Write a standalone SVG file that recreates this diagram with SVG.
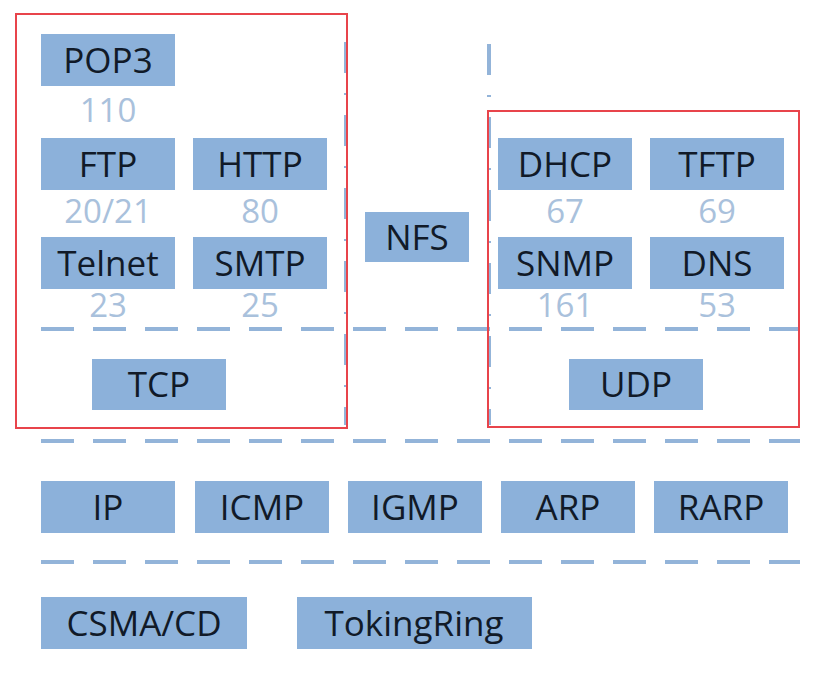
<svg xmlns="http://www.w3.org/2000/svg" width="832" height="690" viewBox="0 0 832 690">
<style>
.box{fill:#8cb1da;}
.lbl{font-family:"Open Sans","Noto Sans","DejaVu Sans",sans-serif;font-size:35px;fill:#111a28;text-anchor:middle;}
.num{font-family:"Open Sans","Noto Sans","DejaVu Sans",sans-serif;font-size:33px;fill:#a9c1dc;text-anchor:middle;}
.hd{stroke:#93b4d9;stroke-width:4;stroke-dasharray:33 19;fill:none;}
.vd{stroke:#93b4d9;stroke-width:4;stroke-dasharray:31 20 2 20;fill:none;}
.red{fill:none;stroke:#e8444b;stroke-width:2;}
</style>
<rect width="832" height="690" fill="#ffffff"/>
<g id="connectors">
<line class="hd" x1="41" y1="329" x2="800" y2="329"/>
<line class="hd" x1="41" y1="441" x2="800" y2="441"/>
<line class="hd" x1="41" y1="562" x2="800" y2="562"/>
<line class="vd" x1="346" y1="42" x2="346" y2="425"/>
<line class="vd" x1="489" y1="44" x2="489" y2="425"/>
</g>
<g id="tcp-group"><rect class="red" x="16" y="14" width="331" height="414"/></g>
<g id="udp-group"><rect class="red" x="488" y="111" width="311" height="316"/></g>
<g id="pop3"><rect class="box" x="41" y="34" width="134" height="52"/><text class="lbl" x="108" y="73">POP3</text><text class="num" x="108" y="122">110</text></g>
<g id="ftp"><rect class="box" x="41" y="138" width="134" height="52"/><text class="lbl" x="108" y="177">FTP</text><text class="num" x="108" y="223">20/21</text></g>
<g id="http"><rect class="box" x="193" y="138" width="134" height="52"/><text class="lbl" x="260" y="177">HTTP</text><text class="num" x="260" y="223">80</text></g>
<g id="telnet"><rect class="box" x="41" y="237" width="134" height="52"/><text class="lbl" x="108" y="276">Telnet</text><text class="num" x="108" y="317">23</text></g>
<g id="smtp"><rect class="box" x="193" y="237" width="134" height="52"/><text class="lbl" x="260" y="276">SMTP</text><text class="num" x="260" y="317">25</text></g>
<g id="tcp"><rect class="box" x="92" y="359" width="134" height="51"/><text class="lbl" x="159" y="397">TCP</text></g>
<g id="nfs"><rect class="box" x="365" y="212" width="104" height="50"/><text class="lbl" x="417" y="250">NFS</text></g>
<g id="dhcp"><rect class="box" x="498" y="138" width="134" height="52"/><text class="lbl" x="565" y="177">DHCP</text><text class="num" x="565" y="223">67</text></g>
<g id="tftp"><rect class="box" x="650" y="138" width="134" height="52"/><text class="lbl" x="717" y="177">TFTP</text><text class="num" x="717" y="223">69</text></g>
<g id="snmp"><rect class="box" x="498" y="237" width="134" height="52"/><text class="lbl" x="565" y="276">SNMP</text><text class="num" x="565" y="317">161</text></g>
<g id="dns"><rect class="box" x="650" y="237" width="134" height="52"/><text class="lbl" x="717" y="276">DNS</text><text class="num" x="717" y="317">53</text></g>
<g id="udp"><rect class="box" x="569" y="359" width="134" height="51"/><text class="lbl" x="636" y="397">UDP</text></g>
<g id="ip"><rect class="box" x="41" y="481" width="134" height="52"/><text class="lbl" x="108" y="520">IP</text></g>
<g id="icmp"><rect class="box" x="195" y="481" width="134" height="52"/><text class="lbl" x="262" y="520">ICMP</text></g>
<g id="igmp"><rect class="box" x="348" y="481" width="134" height="52"/><text class="lbl" x="415" y="520">IGMP</text></g>
<g id="arp"><rect class="box" x="501" y="481" width="134" height="52"/><text class="lbl" x="568" y="520">ARP</text></g>
<g id="rarp"><rect class="box" x="654" y="481" width="134" height="52"/><text class="lbl" x="721" y="520">RARP</text></g>
<g id="csmacd"><rect class="box" x="41" y="597" width="206" height="52"/><text class="lbl" x="144" y="636">CSMA/CD</text></g>
<g id="tokingring"><rect class="box" x="297" y="597" width="235" height="52"/><text class="lbl" x="414" y="636">TokingRing</text></g>
</svg>
